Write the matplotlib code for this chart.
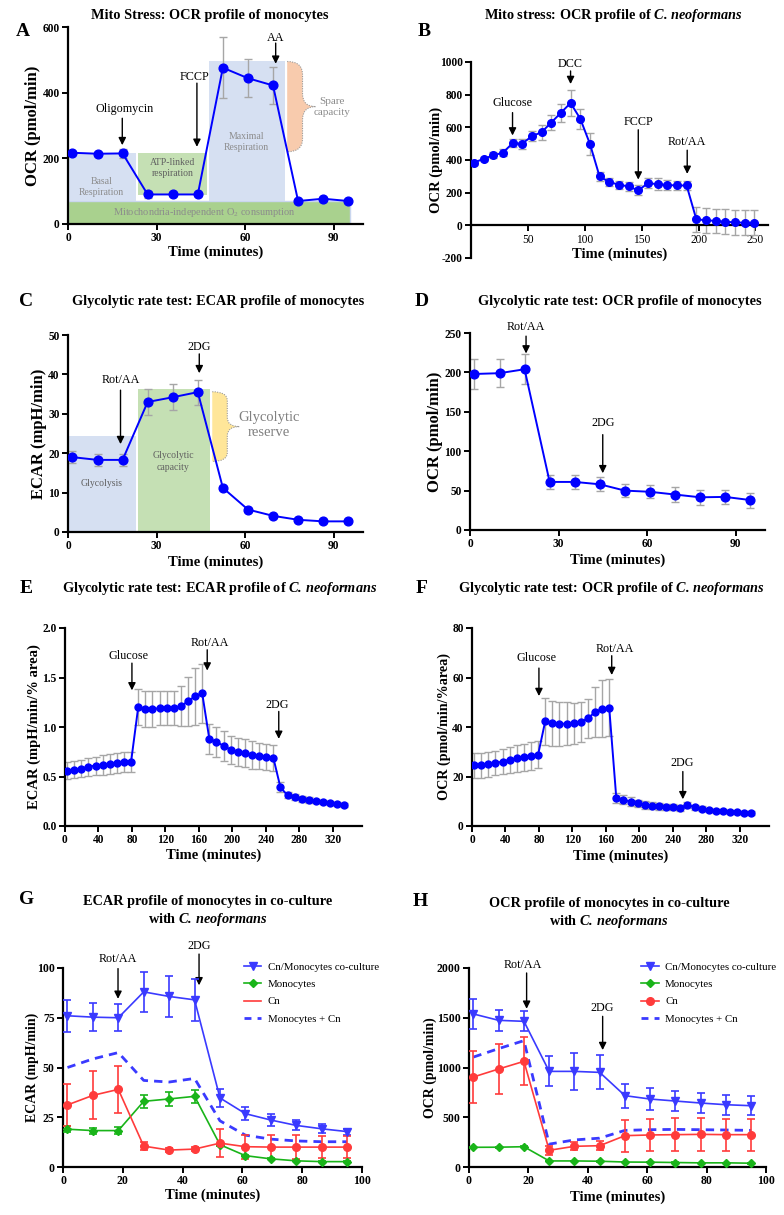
import matplotlib.pyplot as plt
from matplotlib.lines import Line2D
from matplotlib.path import Path
from matplotlib.patches import PathPatch, Rectangle
from matplotlib.ticker import FormatStrFormatter

plt.rcParams['font.family'] = 'Liberation Serif'
plt.rcParams['mathtext.fontset'] = 'custom'
plt.rcParams['mathtext.rm'] = 'Liberation Serif'
plt.rcParams['mathtext.it'] = 'Liberation Serif:italic'
plt.rcParams['mathtext.bf'] = 'Liberation Serif:bold'
plt.rcParams['mathtext.bfit'] = 'Liberation Serif:bold:italic'
plt.rcParams['axes.unicode_minus'] = False

# ---- data ----
t12 = [1.5, 10, 18.5, 27, 35.5, 44, 52.5, 61, 69.5, 78, 86.5, 95]

ocrA = [217, 214, 215, 90, 90, 90, 476, 444, 422, 70, 77, 70]
ocrA_err = [4, 3, 13, 10, 4, 4, 93, 58, 55, 4, 3, 3]

tB = [2.5, 11, 19.5, 28, 36.5, 45, 53.5, 62, 70.5, 79, 87.5, 96, 104.5, 113, 121.5,
      130, 138.5, 147, 155.5, 164, 172.5, 181, 189.5, 198, 206.5, 215, 223.5, 232, 240.5, 249]
ocrB = [384, 407, 428, 445, 502, 500, 546, 570, 629, 689, 749, 653, 499, 299, 265,
        249, 238, 214, 258, 252, 247, 244, 244, 37, 31, 27, 22, 18, 16, 16]
ocrB_err = [12, 14, 18, 22, 25, 30, 32, 45, 45, 55, 82, 62, 68, 25, 25,
            25, 28, 30, 30, 35, 30, 30, 30, 75, 75, 75, 75, 75, 75, 75]

ecar_mono = [19, 18.3, 18.3, 33, 34.2, 35.5, 11.2, 5.7, 4.1, 3.1, 2.7, 2.7]
ecar_mono_err = [1.5, 1.5, 1.6, 3.2, 3.3, 3.2, 0.4, 0.3, 0.3, 0.2, 0.2, 0.2]

ocr_mono = [198, 199, 204, 61, 61, 58, 50, 48.5, 45, 41.5, 42, 38]
ocr_mono_err = [19, 18, 19, 9, 9, 9, 8.5, 8.5, 9, 9.5, 8.5, 9.5]

tEF = [2.5, 11, 19.5, 28, 36.5, 45, 53.5, 62, 70.5, 79, 87.5, 96, 104.5, 113, 121.5,
       130, 138.5, 147, 155.5, 164, 172.5, 181, 189.5, 198, 206.5, 215, 223.5, 232,
       240.5, 249, 257.5, 266, 274.5, 283, 291.5, 300, 308.5, 317, 325.5, 334]
ecarE = [0.56, 0.57, 0.58, 0.60, 0.61, 0.62, 0.63, 0.64, 0.645, 0.65,
         1.20, 1.18, 1.18, 1.19, 1.19, 1.19, 1.21, 1.26, 1.31, 1.34,
         0.88, 0.85, 0.81, 0.77, 0.75, 0.74, 0.72, 0.71, 0.70, 0.69,
         0.39, 0.31, 0.29, 0.27, 0.26, 0.25, 0.24, 0.23, 0.22, 0.21]
ecarE_err = [0.09, 0.09, 0.09, 0.09, 0.09, 0.10, 0.10, 0.10, 0.10, 0.10,
             0.18, 0.18, 0.18, 0.17, 0.17, 0.17, 0.20, 0.25, 0.29, 0.30,
             0.15, 0.15, 0.15, 0.14, 0.14, 0.14, 0.14, 0.13, 0.13, 0.13,
             0.05, 0.03, 0.03, 0.03, 0.03, 0.02, 0.02, 0.02, 0.02, 0.02]
ocrF = [24.5, 24.5, 25, 25.5, 26, 26.8, 27.3, 27.8, 28.3, 28.8,
        42.3, 41.5, 41.2, 41.4, 41.5, 42, 43.5, 46, 47.3, 47.8,
        11.2, 10.7, 9.8, 9.1, 8.5, 8.1, 7.9, 7.7, 7.5, 7.3,
        8.5, 7.6, 6.9, 6.5, 6.2, 5.9, 5.7, 5.5, 5.3, 5.2]
ocrF_err = [5, 5, 5, 5, 5, 5.2, 5.3, 5.4, 5.5, 5.5,
            9.5, 9, 8.8, 8.5, 8.2, 8, 8, 10, 11.5, 11.5,
            2, 2, 1.8, 1.6, 1.5, 1.4, 1.3, 1.3, 1.2, 1.2,
            1.2, 1, 1, 0.9, 0.8, 0.8, 0.7, 0.7, 0.7, 0.7]

coG = [76, 75.3, 75, 88, 85.7, 84, 34.7, 26.8, 23.6, 20.9, 19.2, 17.8]
coG_err = [8, 7, 6.8, 10, 10.3, 10.7, 4.3, 3.2, 2.8, 2.5, 2.3, 1.5]
cnG = [31.2, 36, 39, 10.5, 8.5, 9, 12, 10.2, 10, 10, 10, 10]
cnG_err = [10.5, 12, 12, 2, 0.8, 0.8, 7, 6, 6, 6, 5.5, 5.5]
sumG = [50, 54.3, 57.5, 43.5, 42.7, 44.5, 23.2, 16, 14, 13.1, 12.7, 12.7]

coH = [1538, 1474, 1464, 961, 961, 951, 717, 683, 663, 643, 626, 616]
coH_err = [150, 107, 100, 150, 185, 170, 120, 112, 100, 100, 100, 95]
cnH = [905, 985, 1062, 168, 208, 214, 315, 322, 325, 328, 325, 325]
cnH_err = [265, 255, 240, 45, 40, 45, 160, 163, 165, 165, 160, 160]
sumH = [1105, 1190, 1270, 230, 272, 290, 368, 375, 378, 375, 372, 368]
monoH_err = [4, 4, 4, 3, 3, 3, 3, 3, 3, 3, 3, 3]

legend_labels = ['Cn/Monocytes co-culture', 'Monocytes', 'Cn', 'Monocytes + Cn']

# ---- helpers ----
W, H = 784, 1215
fig = plt.figure(figsize=(W / 100, H / 100), dpi=100)

BLUE = '#0000ff'
GREY = '#a6a6a6'
CBLUE = '#3a3aff'
CGREEN = '#19b419'
CRED = '#ff3b3b'


def add_ax(l, r, t, b):
    return fig.add_axes([l / W, 1 - b / H, (r - l) / W, (b - t) / H])


def ftext(x, y, s, **kw):
    fig.text(x / W, 1 - y / H, s, ha='center', va='center', **kw)


def style(ax, xlim, ylim, xticks, yticks, ylabel, ylsize, ylx, xly, tsize=8.3):
    ax.set_xlim(xlim)
    ax.set_ylim(ylim)
    ax.set_xticks(xticks)
    ax.set_yticks(yticks)
    for s in ['top', 'right']:
        ax.spines[s].set_visible(False)
    for s in ['left', 'bottom']:
        ax.spines[s].set_linewidth(1.6)
    ax.tick_params(direction='out', length=4, width=1.4, labelsize=tsize, pad=2)
    plt.setp(ax.get_xticklabels() + ax.get_yticklabels(), fontweight='bold')
    ax.set_ylabel(ylabel, fontsize=ylsize, fontweight='bold')
    ax.set_xlabel('Time (minutes)', fontsize=10.5, fontweight='bold')
    ax.yaxis.set_label_coords(ylx, 0.5)
    ax.xaxis.set_label_coords(0.5, xly)


def arrow(ax, x, ytail, ytip, label, ytext, xtext=None):
    ax.annotate('', xy=(x, ytip), xytext=(x, ytail), annotation_clip=False,
                arrowprops=dict(arrowstyle='-|>', color='black', lw=1.0,
                                mutation_scale=11, shrinkA=0, shrinkB=0))
    ax.text(x if xtext is None else xtext, ytext, label, ha='center', va='center',
            fontsize=8.7, clip_on=False)


def brace(ax, x0, x1, xp, y0, y1, r, color):
    ym = (y0 + y1) / 2
    pts = [(x0, y1), (x1, y1), (x1, y1 - r), (x1, ym + r), (x1, ym), (xp, ym),
           (x1, ym), (x1, ym - r), (x1, y0 + r), (x1, y0), (x0, y0)]
    codes = [Path.MOVETO, Path.CURVE3, Path.CURVE3, Path.LINETO, Path.CURVE3, Path.CURVE3,
             Path.CURVE3, Path.CURVE3, Path.LINETO, Path.CURVE3, Path.CURVE3]
    ax.add_patch(PathPatch(Path(pts + [(x0, y1)], codes + [Path.LINETO]),
                           fc=color, ec='none', zorder=1))
    ax.add_patch(PathPatch(Path(pts, codes), fill=False, ec='#9a9a9a', lw=0.8,
                           ls=(0, (1, 1.2)), zorder=1))


def series(ax, t, y, err, ms):
    ax.errorbar(t, y, yerr=err, fmt='none', ecolor=GREY, elinewidth=1, capsize=3,
                capthick=1, zorder=2)
    ax.plot(t, y, '-o', color=BLUE, ms=ms, lw=1.4, zorder=3)


# ---- A ----
ax = add_ax(68, 363, 27, 224)
ax.add_patch(Rectangle((0, 0), 95.5, 70, fc='#a9d18e', ec='#c9d6ee', lw=1, zorder=1))
ax.add_patch(Rectangle((0, 70), 23, 147, fc='#d6e0f2', ec='none', zorder=1))
ax.add_patch(Rectangle((23.8, 88), 23.3, 129, fc='#c5e0b4', ec='none', zorder=1))
ax.add_patch(Rectangle((47.8, 70), 25.7, 425, fc='#d6e0f2', ec='none', zorder=1))
brace(ax, 74.3, 79.5, 84, 220, 495, 40, '#f8cbad')
ax.text(11.3, 112, 'Basal\nRespiration', ha='center', va='center', fontsize=7, color='#8c8c8c', linespacing=1.3)
ax.text(35.4, 170, 'ATP-linked\nrespiration', ha='center', va='center', fontsize=7, color='#606060', linespacing=1.3)
ax.text(60.5, 251, 'Maximal\nRespiration', ha='center', va='center', fontsize=7, color='#8c8c8c', linespacing=1.3)
ax.text(46.3, 36, 'Mitochondria-independent O$_2$ consumption', ha='center', va='center', fontsize=7.5, color='#8c8c8c')
ax.text(89.5, 357, 'Spare\ncapacity', ha='center', va='center', fontsize=8, color='#8c8c8c', linespacing=1.3)
series(ax, t12, ocrA, ocrA_err, 6.3)
arrow(ax, 18.4, 322, 240, 'Oligomycin', 350, 19.2)
arrow(ax, 43.7, 429, 235, 'FCCP', 449, 43)
arrow(ax, 70.4, 551, 488, 'AA', 568)
style(ax, (0, 100), (0, 600), [0, 30, 60, 90], [0, 200, 400, 600], 'OCR (pmol/min)', 12, -0.09, -0.11)

# ---- B ----
ax = add_ax(471, 768, 62, 258)
ax.errorbar(tB, ocrB, yerr=ocrB_err, fmt='none', ecolor=GREY, elinewidth=1, capsize=3, capthick=1, zorder=2)
ax.plot(tB, ocrB, '-o', color=BLUE, ms=5.5, lw=1.4, zorder=3)
arrow(ax, 36.5, 690, 550, 'Glucose', 750)
arrow(ax, 87.5, 945, 865, 'DCC', 990)
arrow(ax, 147, 585, 280, 'FCCP', 635)
arrow(ax, 190, 460, 315, 'Rot/AA', 510)
style(ax, (0, 261), (-200, 1000), [50, 100, 150, 200, 250], [-200, 0, 200, 400, 600, 800, 1000],
      'OCR (pmol/min)', 10.5, -0.095, 0.055)
ax.spines['bottom'].set_position(('data', 0))

# ---- C ----
ax = add_ax(68, 363, 335, 532)
ax.add_patch(Rectangle((0, 0), 23, 24.4, fc='#d6e0f2', ec='none', zorder=1))
ax.add_patch(Rectangle((23.8, 0), 24.3, 36.3, fc='#c5e0b4', ec='none', zorder=1))
brace(ax, 48.9, 54, 58.1, 17.9, 35.6, 2.3, '#ffe699')
ax.text(11.3, 12.2, 'Glycolysis', ha='center', va='center', fontsize=7, color='#606060')
ax.text(35.7, 17.9, 'Glycolytic\ncapacity', ha='center', va='center', fontsize=7, color='#606060', linespacing=1.3)
ax.text(68, 27.2, 'Glycolytic\nreserve', ha='center', va='center', fontsize=10.5, color='#808080', linespacing=1.2)
series(ax, t12, ecar_mono, ecar_mono_err, 6.3)
arrow(ax, 17.8, 36, 22.3, 'Rot/AA', 38.6)
arrow(ax, 44.5, 45.2, 40.3, '2DG', 47)
style(ax, (0, 100), (0, 50), [0, 30, 60, 90], [0, 10, 20, 30, 40, 50], 'ECAR (mpH/min)', 12, -0.07, -0.117)

# ---- D ----
ax = add_ax(470, 765, 333, 530)
series(ax, t12, ocr_mono, ocr_mono_err, 6.3)
arrow(ax, 19, 246, 224, 'Rot/AA', 257)
arrow(ax, 45, 121, 72, '2DG', 136)
style(ax, (0, 100), (0, 250), [0, 30, 60, 90], [0, 50, 100, 150, 200, 250], 'OCR (pmol/min)', 12, -0.09, -0.117)

# ---- E ----
ax = add_ax(65, 362, 628, 826)
series(ax, tEF, ecarE, ecarE_err, 5)
arrow(ax, 80, 1.645, 1.37, 'Glucose', 1.72, 76)
arrow(ax, 170, 1.78, 1.57, 'Rot/AA', 1.85, 173)
arrow(ax, 255.5, 1.157, 0.88, '2DG', 1.22, 254)
style(ax, (0, 355), (0, 2.0), list(range(0, 321, 40)), [0, 0.5, 1.0, 1.5, 2.0],
      'ECAR (mpH/min/% area)', 10.5, -0.082, -0.116)
ax.yaxis.set_major_formatter(FormatStrFormatter('%.1f'))
plt.setp(ax.get_yticklabels(), fontweight='bold')

# ---- F ----
ax = add_ax(472, 769, 628, 826)
series(ax, tEF, ocrF, ocrF_err, 5)
arrow(ax, 80, 63.8, 52.5, 'Glucose', 68, 77)
arrow(ax, 167, 68.8, 61, 'Rot/AA', 71.5, 171)
arrow(ax, 252, 22, 10.8, '2DG', 25.4, 251)
style(ax, (0, 355), (0, 80), list(range(0, 321, 40)), [0, 20, 40, 60, 80],
      'OCR (pmol/min/%area)', 10.2, -0.07, -0.121)


# ---- G & H ----
def coculture(ax, co, co_err, cn, cn_err, mono, mono_err, summ, cn_marker):
    ax.errorbar(t12, co, yerr=co_err, color=CBLUE, marker='v', ms=6, lw=1.2,
                elinewidth=1.2, capsize=3.2, capthick=1.2, zorder=4)
    ax.errorbar(t12, mono, yerr=mono_err, color=CGREEN, marker='D', ms=3.8, lw=1.2,
                elinewidth=1.2, capsize=3.2, capthick=1.2, zorder=4)
    ax.errorbar(t12, cn, yerr=cn_err, color=CRED, marker='o', ms=5.5, lw=1.2,
                elinewidth=1.2, capsize=3.2, capthick=1.2, zorder=4)
    ax.plot(t12, summ, color=CBLUE, lw=2, ls=(0, (3, 2.2)), zorder=3)
    handles = [Line2D([], [], color=CBLUE, marker='v', ms=6, lw=1.2),
               Line2D([], [], color=CGREEN, marker='D', ms=3.8, lw=1.2),
               Line2D([], [], color=CRED, marker=cn_marker, ms=5.5, lw=1.2),
               Line2D([], [], color=CBLUE, lw=2, ls=(0, (2.5, 2.2)))]
    return handles


ax = add_ax(63, 362, 968, 1167)
hd = coculture(ax, coG, coG_err, cnG, cnG_err, ecar_mono, ecar_mono_err, sumG, 'None')
arrow(ax, 18.4, 99.7, 84.5, 'Rot/AA', 104.3)
arrow(ax, 45.5, 107, 91.3, '2DG', 111)
style(ax, (0, 100), (0, 100), [0, 20, 40, 60, 80, 100], [0, 25, 50, 75, 100],
      'ECAR (mpH/min)', 10, -0.08, -0.107, 8.5)
ax.legend(hd, legend_labels, loc='upper left', bbox_to_anchor=(0.605, 1.03), frameon=False,
          fontsize=7.8, handlelength=1.6, labelspacing=0.72, handletextpad=0.6,
          borderaxespad=0, borderpad=0)

ax = add_ax(469, 766, 968, 1167)
hd = coculture(ax, coH, coH_err, cnH, cnH_err, ocr_mono, monoH_err, sumH, 'o')
arrow(ax, 19.4, 1950, 1590, 'Rot/AA', 2035, 18.2)
arrow(ax, 45, 1514, 1175, '2DG', 1600, 44.8)
style(ax, (0, 100), (0, 2000), [0, 20, 40, 60, 80, 100], [0, 500, 1000, 1500, 2000],
      'OCR (pmol/min)', 10, -0.108, -0.116, 8.5)
ax.legend(hd, legend_labels, loc='upper left', bbox_to_anchor=(0.58, 1.03), frameon=False,
          fontsize=7.8, handlelength=1.6, labelspacing=0.72, handletextpad=0.6,
          borderaxespad=0, borderpad=0)

# ---- titles and panel letters ----
TS = 10.3
CN = r'$\mathbfit{C.}\,\mathbfit{neoformans}$'
ftext(210, 15, 'Mito Stress: OCR profile of monocytes', fontsize=TS, fontweight='bold')
ftext(613, 16, 'Mito stress: OCR profile of ' + CN, fontsize=TS, fontweight='bold')
ftext(218, 302, 'Glycolytic rate test: ECAR profile of monocytes', fontsize=TS, fontweight='bold')
ftext(620, 302, 'Glycolytic rate test: OCR profile of monocytes', fontsize=TS, fontweight='bold')
ftext(220, 589, 'Glycolytic rate test: ECAR profile of ' + CN, fontsize=TS, fontweight='bold')
ftext(611, 589, 'Glycolytic rate test: OCR profile of ' + CN, fontsize=TS, fontweight='bold')
ftext(208, 912, 'ECAR profile of monocytes in co-culture\nwith ' + CN, fontsize=TS, fontweight='bold', linespacing=1.25)
ftext(609, 913, 'OCR profile of monocytes in co-culture\nwith ' + CN, fontsize=TS, fontweight='bold', linespacing=1.25)

for letter, x, y in [('A', 23, 32), ('B', 424, 31), ('C', 26, 302), ('D', 422, 302),
                     ('E', 26, 589), ('F', 422, 589), ('G', 27, 899), ('H', 420, 901)]:
    ftext(x, y, letter, fontsize=14, fontweight='bold')

fig.savefig('out.png', dpi=100)
